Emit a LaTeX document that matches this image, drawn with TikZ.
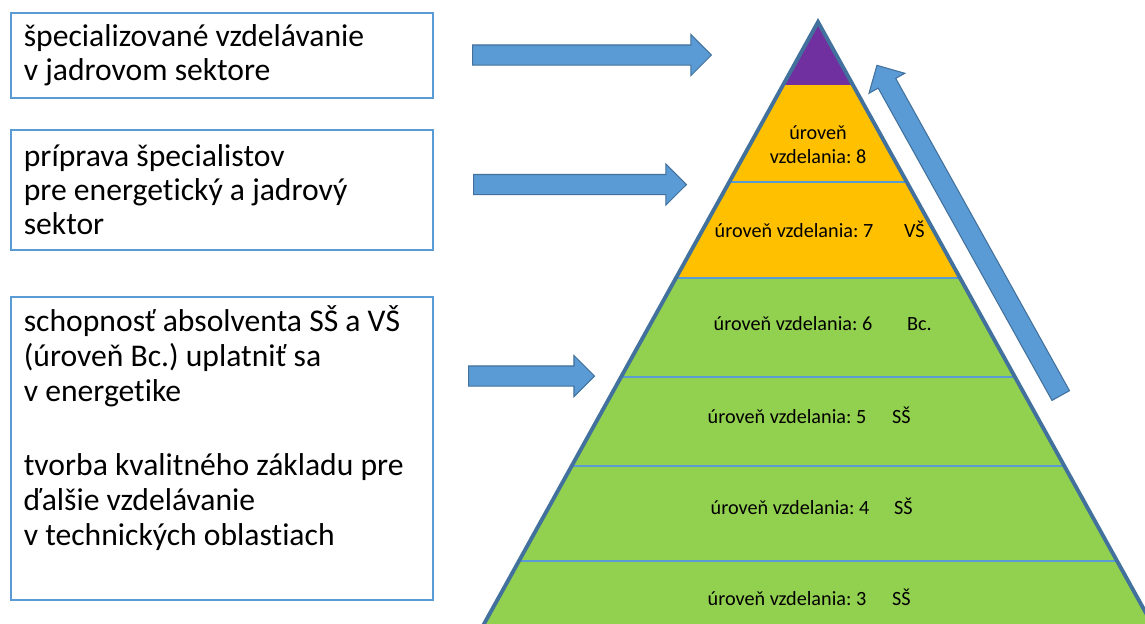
\documentclass[tikz,border=0pt]{standalone}
\usepackage{fontspec}
\setmainfont{Carlito}[Ligatures=NoCommon]
\frenchspacing
\usetikzlibrary{positioning,shapes.arrows}
\definecolor{boxblue}{HTML}{5B9BD5}
\definecolor{edgeblue}{HTML}{41719C}
\definecolor{lvlpurple}{HTML}{7030A0}
\definecolor{lvlorange}{HTML}{FFC000}
\definecolor{lvlgreen}{HTML}{92D050}
\tikzset{
  infobox/.style={draw=boxblue, line width=1pt, anchor=north west, minimum width=8.44cm,
    text width=7.92cm, inner xsep=0.26cm, align=flush left, font=\fontsize{18}{19.5}\selectfont},
  bigarrow/.style={single arrow, draw=edgeblue, fill=boxblue, line width=0.6pt, inner sep=0pt,
    inner ysep=0.19cm, single arrow head extend=0.21cm, anchor=tail},
  lvltext/.style={font=\fontsize{11.5}{13.8}\selectfont, inner sep=1pt},
  levelline/.style={boxblue, line width=0.6pt}
}
\begin{document}
\begin{tikzpicture}[x=0.02cm,y=-0.02cm]
  \useasboundingbox (0,0) rectangle (1145,623);
  \clip (0,0) rectangle (1145,623);
  % text boxes
  \node[infobox, minimum height=1.7cm] (spec) at (10,12)
    {špecializované vzdelávanie\\v jadrovom sektore};
  \node[infobox, minimum height=2.4cm] (prep) at (10,129)
    {príprava špecialistov\\pre energetický a jadrový\\sektor};
  \node[infobox, minimum height=6.06cm, font=\fontsize{18}{20}\selectfont] (abs) at (10,296)
    {schopnosť absolventa SŠ a VŠ\\(úroveň Bc.) uplatniť sa\\v energetike\\[22pt]
     tvorba kvalitného základu pre\\ďalšie vzdelávanie\\v technických oblastiach\\[6pt] \mbox{}};
  % pyramid
  \coordinate (apex) at (818,22);
  \coordinate (bl) at (464,660);
  \coordinate (br) at (1172,660);
  \begin{scope}
    \clip (apex) -- (bl) -- (br) -- cycle;
    \fill[lvlgreen] (400,278) rectangle (1200,700);
    \fill[lvlorange] (400,85) rectangle (1200,278);
    \fill[lvlpurple] (400,0) rectangle (1200,85);
    \foreach \y in {182,278,377,466,561}
      \draw[levelline] (400,\y) -- (1200,\y);
  \end{scope}
  \draw[edgeblue, line width=2.2pt] (bl) -- (apex) -- (br);
  % levels
  \node[lvltext, align=flush center] (lvl8) at (818,145) {úroveň\\vzdelania: 8};
  \foreach \n/\x/\y/\qx/\q in {7/794/232/902/VŠ, 6/793/325/905/Bc., 5/787/418/890/SŠ,
                               4/790/509/892/SŠ, 3/787/600/890/SŠ} {
    \node[lvltext, text height=1.6ex, text depth=.3ex] (lvl\n) at (\x,\y) {úroveň vzdelania: \n};
    \node[lvltext, text height=1.6ex, text depth=.3ex, anchor=west] (deg\n) at (\qx,\y) {\q};
  }
  % arrows
  \node[bigarrow, minimum height=4.78cm] (arr1) at (472,55) {};
  \node[bigarrow, minimum height=4.26cm] (arr2) at (473,184.5) {};
  \node[bigarrow, minimum height=2.52cm] (arr3) at (468,376) {};
  \node[bigarrow, minimum height=7.56cm, rotate=119.1] (rise) at (1061,396) {};
\end{tikzpicture}
\end{document}
